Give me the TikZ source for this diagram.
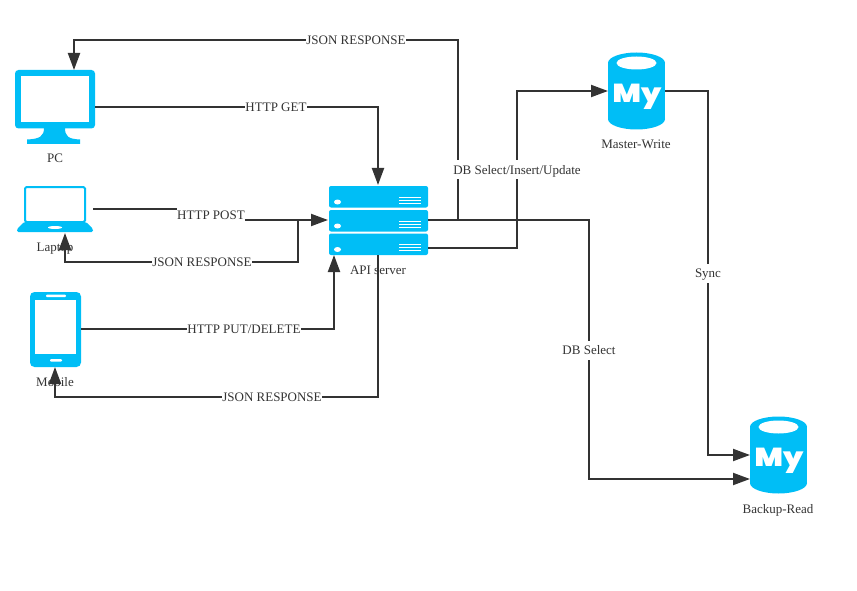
\documentclass[tikz,border=0pt]{standalone}
\usepackage{fontspec}
\setmainfont{Liberation Serif}
\newfontfamily\logofont{Poppins Black}
\usepackage{xcolor}
\usetikzlibrary{arrows.meta}
\usetikzlibrary{calc}
\definecolor{iconblue}{HTML}{00BEF6}
\definecolor{wiregray}{HTML}{333333}

\begin{document}
\begin{tikzpicture}[
    x=1pt, y=-1pt,
    font=\fontsize{13}{15}\selectfont,
    text=wiregray,
    icon box/.style={inner sep=0pt, outer sep=0pt},
    wire/.style={draw=wiregray, line width=2pt, -{Triangle[length=17pt,width=12pt]}},
    wire label/.style={fill=white, inner xsep=0.5pt, inner ysep=0pt, text height=10pt, text depth=0.5pt, minimum height=19pt},
    icon label/.style={inner sep=0pt, text height=9pt, text depth=1pt},
    white part/.style={fill=white},
    db icon/.pic={
        \fill[iconblue] (0,-28) ellipse [x radius=28.5, y radius=10.5];
        \fill[iconblue] (-28.5,-28) rectangle (28.5,28);
        \fill[iconblue] (0,28) ellipse [x radius=28.5, y radius=10.5];
        \fill[white part] (0,-28) ellipse [x radius=20, y radius=6.5];
        \node[white, inner sep=0pt, anchor=base, xscale=1.15, font=\logofont\fontsize{26}{26}\selectfont] at (0.5,11.5) {My};
    }
]
\useasboundingbox (0,0) rectangle (857,591);

% anchor boxes
\node[icon box, minimum width=80pt, minimum height=74pt] (pc) at (55,107) {};
\node[icon box, minimum width=76pt, minimum height=46pt] (laptop) at (55,209) {};
\node[icon box, minimum width=52pt, minimum height=76pt] (mobile) at (55,329) {};
\node[icon box, minimum width=100pt, minimum height=70pt] (server) at (378,220) {};
\node[icon box, minimum width=57pt, minimum height=78pt] (master) at (636.5,91) {};
\node[icon box, minimum width=57pt, minimum height=78pt] (backup) at (778.5,455) {};

% pc
\fill[iconblue, rounded corners=3.5pt] (15,70) rectangle (95,128.5);
\fill[white part] (21,76) rectangle (89,122);
\fill[iconblue] (44,128) .. controls (44,136) and (40,139) .. (27,139.5) -- (27,144) -- (80,144) -- (80,139.5)
    .. controls (68,139) and (65,136) .. (65,128) -- cycle;
% laptop
\draw[iconblue, line width=2pt, rounded corners=1.5pt, fill=white] (25,187) rectangle (85,222);
\fill[iconblue, rounded corners=1.5pt] (24,222) -- (86,222) -- (93,229) -- (93,232) -- (17,232) -- (17,229) -- cycle;
\fill[white part] (55,227.5) ellipse [x radius=7, y radius=1.5];
% mobile
\fill[iconblue, rounded corners=4.5pt] (30,292) rectangle (81,367);
\fill[white part] (35,300) rectangle (76,354);
\fill[white part, rounded corners=1pt] (46,294.5) rectangle (66,297);
\fill[white part, rounded corners=1pt] (50,359) rectangle (62,361.5);
% server
\foreach \rowtop in {186,210,233.5} {
    \fill[iconblue, rounded corners=2pt] (329,\rowtop) rectangle (428,\rowtop+21.5);
    \fill[white part] (337.5,\rowtop+16) ellipse [x radius=3.5, y radius=2.5];
    \foreach \rowline in {11,14,17}
        \fill[white part] (399,\rowtop+\rowline-0.5) rectangle (421,\rowtop+\rowline+0.5);
}
% databases
\pic at (master) {db icon};
\pic at (backup) {db icon};

\node[icon label] (pclabel) at (55,159) {PC};
\node[icon label] (laptoplabel) at (55,247) {Laptop};
\node[icon label] (mobilelabel) at (55,382) {Mobile};
\node[icon label] (serverlabel) at (378,270) {API server};
\node[icon label] (masterlabel) at (636,145) {Master-Write};
\node[icon label] (backuplabel) at (778,509) {Backup-Read};

% helper points
\coordinate (pcport) at (74,70);
\coordinate (toppoint) at (458,40);
\coordinate (jointop) at (458,220);
\coordinate (postbend) at (211,215);
\coordinate (joinlaptop) at (298,220);
\coordinate (laptopbus) at (298,262);
\coordinate (laptopport) at (65,233);
\coordinate (putport) at (334,255);
\coordinate (mobilebus) at (378,397);
\coordinate (selectout) at (428,220);
\coordinate (writeout) at (428,248);
\coordinate (writebend) at (517,170);
\coordinate (selectbend) at (589,350);
\coordinate (syncbend) at (708,273);
\coordinate (syncport) at (750,455);
\coordinate (selectport) at (750,479);

% connectors
\draw[wire] (pc.east) -| (server.north);
\draw[wire] (jointop) -- (toppoint) -| (pcport);
\draw[wire] (laptop.east) -| (postbend) |- (server.west);
\draw[wire] (joinlaptop) -- (laptopbus) -| (laptopport);
\draw[wire] (mobile.east) -| (putport);
\draw[wire] (server.south) -- (mobilebus) -| (mobile.south);
\draw[wire] (writeout) -| (writebend) |- (master.west);
\draw[wire] (selectout) -| (selectbend) |- (selectport);
\draw[wire] (master.east) -| (syncbend) |- (syncport);

% connector labels
\node[wire label] (getlabel) at (276,107) {HTTP GET};
\node[wire label] (toplabel) at (356,40) {JSON RESPONSE};
\node[wire label] (postlabel) at (postbend) {HTTP POST};
\node[wire label] (laptopjson) at (202,262) {JSON RESPONSE};
\node[wire label] (putlabel) at (244,329) {HTTP PUT/DELETE};
\node[wire label] (mobilejson) at (272,397) {JSON RESPONSE};
\node[wire label] (writelabel) at (writebend) {DB Select/Insert/Update};
\node[wire label] (selectlabel) at (selectbend) {DB Select};
\node[wire label] (synclabel) at (syncbend) {Sync};
\end{tikzpicture}
\end{document}
